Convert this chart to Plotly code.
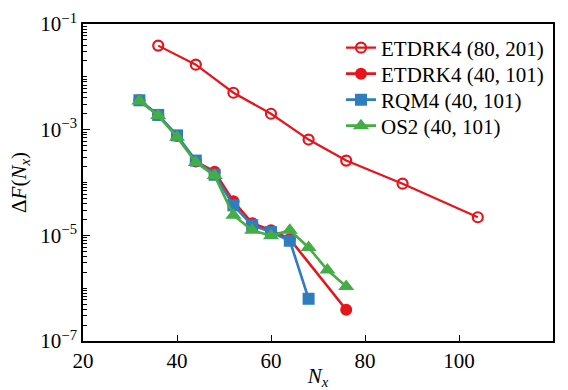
import plotly.graph_objects as go

# ---- data ----
nx_etd80 = [36, 44, 52, 60, 68, 76, 88, 104]
df_etd80 = [0.039, 0.017, 5.0e-3, 2.0e-3, 6.5e-4, 2.6e-4, 9.5e-5, 2.2e-5]

nx_etd40 = [32, 36, 40, 44, 48, 52, 56, 60, 64, 76]
df_etd40 = [3.6e-3, 1.9e-3, 7.6e-4, 2.5e-4, 1.6e-4, 4.4e-5, 1.7e-5, 1.25e-5, 8.5e-6, 3.9e-7]

nx_rqm4 = [32, 36, 40, 44, 48, 52, 56, 60, 64, 68]
df_rqm4 = [3.6e-3, 1.9e-3, 7.8e-4, 2.6e-4, 1.4e-4, 3.7e-5, 1.55e-5, 1.15e-5, 7.9e-6, 6.3e-7]

nx_os2 = [32, 36, 40, 44, 48, 52, 56, 60, 64, 68, 72, 76]
df_os2 = [3.5e-3, 1.85e-3, 7.2e-4, 2.4e-4, 1.35e-4, 2.4e-5, 1.25e-5, 9.8e-6, 1.25e-5, 5.9e-6, 2.2e-6, 1.08e-6]

names = ["ETDRK4 (80, 201)", "ETDRK4 (40, 101)", "RQM4 (40, 101)", "OS2 (40, 101)"]

x_ticks = [20, 40, 60, 80, 100, 120]
y_major = [1e-1, 1e-3, 1e-5, 1e-7]
y_major_text = ["10<sup>−1</sup>", "10<sup>−3</sup>", "10<sup>−5</sup>", "10<sup>−7</sup>"]
y_minor = [m * 10.0 ** k for k in range(-7, -1) for m in range(2, 11)]

RED = "#e8141b"
BLUE = "#2f7dc0"
GREEN = "#45ad45"
FONT = "Liberation Serif"

W, H = 568, 390
ML, MR, MT, MB = 83, 15, 24, 49
PH = H - MT - MB

fig = go.Figure()
fig.add_trace(go.Scatter(
    x=nx_etd80, y=df_etd80, name=names[0], mode="lines+markers", legend="legend",
    line=dict(color=RED, width=2.2),
    marker=dict(symbol="circle-open", size=10, color=RED, line=dict(width=2.2, color=RED)),
))
fig.add_trace(go.Scatter(
    x=nx_etd40, y=df_etd40, name=names[1], mode="lines+markers", legend="legend2",
    line=dict(color=RED, width=2.6),
    marker=dict(symbol="circle", size=12, color=RED),
))
fig.add_trace(go.Scatter(
    x=nx_rqm4, y=df_rqm4, name=names[2], mode="lines+markers", legend="legend3",
    line=dict(color=BLUE, width=2.6),
    marker=dict(symbol="square", size=12, color=BLUE),
))
fig.add_trace(go.Scatter(
    x=nx_os2, y=df_os2, name=names[3], mode="lines+markers", legend="legend4",
    line=dict(color=GREEN, width=2.6),
    marker=dict(symbol="triangle-up", size=14, color=GREEN),
))

def leg(row_px):
    return dict(
        x=(341 - ML) / (W - ML - MR), y=(H - MB - row_px) / PH,
        xanchor="left", yanchor="middle",
        bgcolor="rgba(0,0,0,0)", borderwidth=0,
        font=dict(family=FONT, size=21, color="black"),
        itemwidth=30,
    )

fig.update_layout(
    width=W, height=H,
    margin=dict(l=ML, r=MR, t=MT, b=MB),
    paper_bgcolor="white", plot_bgcolor="white",
    font=dict(family=FONT, size=21, color="black"),
    showlegend=True,
    legend=leg(48), legend2=leg(74), legend3=leg(100), legend4=leg(126),
)
fig.update_xaxes(
    range=[20, 120], tickmode="array", tickvals=x_ticks, automargin=False,
    ticks="inside", ticklen=6, tickwidth=1.3, tickcolor="black",
    showline=True, linecolor="black", linewidth=1.6, mirror=True,
    showgrid=False, zeroline=False,
    title=dict(text="<i>N</i><sub><i>x</i></sub>", standoff=4, font=dict(family=FONT, size=21)),
)
fig.update_yaxes(
    type="log", range=[-7, -1], tickmode="array", automargin=False,
    tickvals=y_major, ticktext=y_major_text,
    ticks="inside", ticklen=7, tickwidth=1.3, tickcolor="black",
    minor=dict(tickmode="array", tickvals=y_minor, ticks="inside", ticklen=4, tickwidth=1, tickcolor="black", showgrid=False),
    showline=True, linecolor="black", linewidth=1.6, mirror=True,
    showgrid=False, zeroline=False,
    title=dict(text="Δ<i>F</i>(<i>N</i><sub><i>x</i></sub>)", standoff=8, font=dict(family=FONT, size=21)),
)

fig.write_html("out.html", config={"displayModeBar": False},
               post_script="document.body.style.margin='0';")
